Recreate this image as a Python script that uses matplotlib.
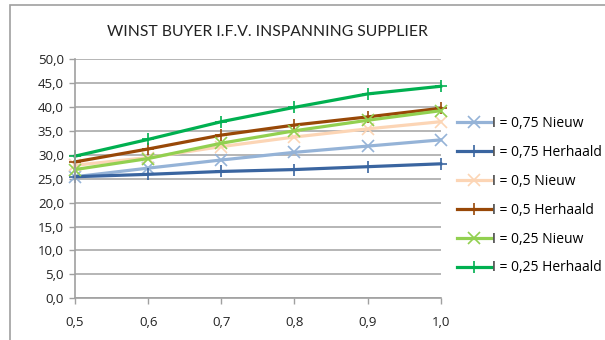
import matplotlib
matplotlib.use("Agg")
import matplotlib.pyplot as plt
from matplotlib.patches import Rectangle
from matplotlib.ticker import FuncFormatter

plt.rcParams["font.family"] = ["Open Sans", "DejaVu Sans"]

x_vals = [0.5, 0.6, 0.7, 0.8, 0.9, 1.0]
labels = ["I = 0,75 Nieuw", "I = 0,75 Herhaald", "I = 0,5 Nieuw",
          "I = 0,5 Herhaald", "I = 0,25 Nieuw", "I = 0,25 Herhaald"]
i075_nieuw = [25.4, 27.2, 28.9, 30.5, 31.8, 33.1]
i075_herhaald = [25.4, 25.9, 26.5, 26.9, 27.5, 28.1]
i05_nieuw = [27.8, 29.4, 31.7, 33.7, 35.4, 36.9]
i05_herhaald = [28.5, 31.2, 34.1, 36.2, 37.9, 39.7]
i025_nieuw = [26.9, 29.2, 32.4, 35.0, 37.2, 39.2]
i025_herhaald = [29.7, 33.2, 36.9, 39.9, 42.7, 44.3]

series = [i075_nieuw, i075_herhaald, i05_nieuw, i05_herhaald, i025_nieuw, i025_herhaald]
colors = ["#95B3D7", "#3A65A0", "#FCD5B5", "#984807", "#92D050", "#00B050"]
markers = ["x", "+", "x", "+", "x", "+"]

fig = plt.figure(figsize=(6.05, 3.4), dpi=100)
fig.patches.append(Rectangle((10 / 605, -0.1), 1.0, 1.1 - 5 / 340, transform=fig.transFigure,
                             fill=False, edgecolor="#A0A0A0", linewidth=1.2))

ax = fig.add_axes([75 / 605, 1 - 298.3 / 340, (440.7 - 75) / 605, (298.3 - 59) / 340])

for vals, c, m, lab in zip(series, colors, markers, labels):
    ax.plot(x_vals, vals, color=c, lw=2.3, marker=m, markersize=9,
            markeredgewidth=1.2, label=lab, clip_on=False)

ax.set_xlim(0.5, 1.0)
ax.set_ylim(0, 50)
ax.set_xticks(x_vals)
ax.set_yticks(range(0, 51, 5))
ax.xaxis.set_major_formatter(FuncFormatter(lambda v, p: f"{v:.1f}".replace(".", ",")))
ax.yaxis.set_major_formatter(FuncFormatter(lambda v, p: f"{v:.1f}".replace(".", ",")))
ax.grid(axis="y", color="#B0B0B0", lw=1.3)
ax.set_axisbelow(True)
for s in ["top", "right"]:
    ax.spines[s].set_visible(False)
for s in ["left", "bottom"]:
    ax.spines[s].set_color("#A0A0A0")
    ax.spines[s].set_linewidth(1.2)
ax.tick_params(colors="#A0A0A0", labelcolor="#222222", labelsize=9.5, length=4, width=1.0)
ax.tick_params(axis="y", pad=4)
ax.tick_params(axis="x", pad=9)

fig.text(267 / 605, 1 - 32 / 340, "WINST BUYER I.F.V. INSPANNING SUPPLIER",
         ha="center", va="center", fontsize=11.3, color="#222222",
         family=["Lato", "DejaVu Sans"])

ax.legend(loc="upper left", bbox_to_anchor=(1.03, 0.785), frameon=False,
          fontsize=10, handlelength=2.4, handletextpad=0.1, labelspacing=1.0,
          borderaxespad=0)

fig.savefig("out.png", dpi=100)
